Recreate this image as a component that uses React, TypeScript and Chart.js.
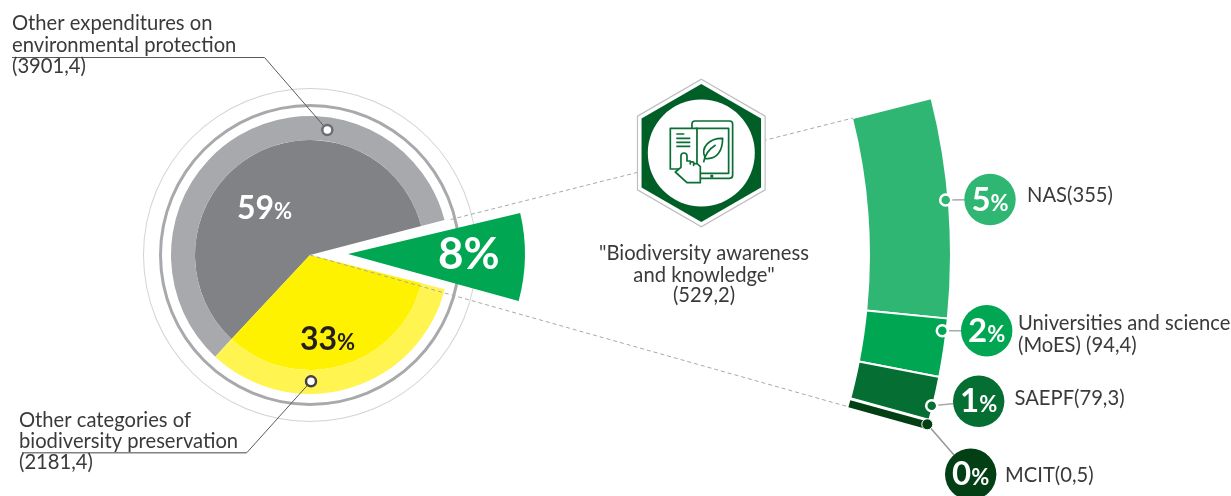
import React, { useEffect, useRef } from "react";
import { Chart, registerables } from "chart.js";

Chart.register(...registerables);

// Budget split shown by the main pie
const pieCategories = [
  "Other expenditures on environmental protection",
  "Biodiversity awareness and knowledge",
  "Other categories of biodiversity preservation",
];
const pieValues = [3901.4, 529.2, 2181.4];
const piePercents = [59, 8, 33];

// Breakdown of the awareness and knowledge slice
const detailCategories = ["NAS", "Universities and science (MoES)", "SAEPF", "MCIT"];
const detailValues = [355, 94.4, 79.3, 0.5];
const detailPercents = [5, 2, 1, 0];

const WIDTH = 1231;
const HEIGHT = 496;
const PIE_CENTER = { x: 310, y: 255 };
const WEDGE_CENTER = { x: 348, y: 254 };
const FONT = "Lato";
const INK = "#3a3a3c";
const GREENS = ["#2fb673", "#00a651", "#056f33", "#023f14"];
const DETAIL_START = 75.84; // degrees clockwise from twelve o'clock
const DETAIL_SWEEP = 29.6;

const sum = (list: number[]) => list.reduce((a, b) => a + b, 0);
const decimal = (v: number) => String(v).replace(".", ",");
const polar = (r: number, deg: number) => ({
  x: PIE_CENTER.x + r * Math.cos((deg * Math.PI) / 180),
  y: PIE_CENTER.y + r * Math.sin((deg * Math.PI) / 180),
});

// Keeps a partial arc on the chart's true centre instead of re-centring it
const fullCircleSpacer = {
  data: [1],
  weight: 0,
  rotation: 0,
  circumference: 360,
  backgroundColor: "transparent",
  borderWidth: 0,
};

type Layer = {
  center: { x: number; y: number };
  radius: number;
  cutout: number;
  datasets: any[];
};

const ringLayer = (outer: number, inner: number, color: string): Layer => ({
  center: PIE_CENTER,
  radius: outer,
  cutout: inner,
  datasets: [{ data: [1], backgroundColor: color, borderWidth: 0 }],
});

const pieStart = 223;
const wedgeMid = 91;
const wedgeSweep = (pieValues[1] / sum(pieValues)) * 360;
const wedgeStart = wedgeMid - wedgeSweep / 2 - (pieValues[0] / sum(pieValues)) * 360;

const layers: Layer[] = [
  ringLayer(167, 166, "#d1d3d4"),
  ringLayer(151, 148, "#a7a9ac"),
  {
    center: PIE_CENTER,
    radius: 139,
    cutout: 0,
    datasets: [
      {
        data: pieValues,
        weight: 24,
        rotation: pieStart,
        backgroundColor: ["#a7a9ac", "transparent", "#fff450"],
        borderWidth: 0,
      },
      {
        data: pieValues,
        weight: 115,
        rotation: pieStart,
        backgroundColor: ["#808285", "transparent", "#fff200"],
        borderWidth: 0,
      },
    ],
  },
  {
    center: WEDGE_CENTER,
    radius: 177,
    cutout: 0,
    datasets: [
      {
        data: pieValues,
        rotation: wedgeStart,
        backgroundColor: ["transparent", "#00a651", "transparent"],
        borderWidth: 0,
      },
    ],
  },
  {
    center: PIE_CENTER,
    radius: 641,
    cutout: 559,
    datasets: [
      {
        data: detailValues,
        rotation: DETAIL_START,
        circumference: DETAIL_SWEEP,
        backgroundColor: GREENS,
        borderColor: "#ffffff",
        borderWidth: [2, 2, 2, 13],
        borderJoinStyle: "miter",
      },
      fullCircleSpacer,
    ],
  },
  // The smallest share is a hairline, so it gets a stroke to stay legible
  {
    center: PIE_CENTER,
    radius: 637,
    cutout: 563,
    datasets: [
      {
        data: detailValues,
        rotation: DETAIL_START,
        circumference: DETAIL_SWEEP,
        backgroundColor: "transparent",
        borderColor: GREENS[3],
        borderWidth: [0, 0, 0, 7],
        borderJoinStyle: "miter",
      },
      fullCircleSpacer,
    ],
  },
];

const markers = [
  { x: 327.3, y: 130, r: 5, fill: "#ffffff", stroke: "#6d6e71", w: 2.5 },
  { x: 311, y: 381.3, r: 5, fill: "#ffffff", stroke: "#414042", w: 2.5 },
  { x: 945.7, y: 200, r: 5.5, fill: GREENS[0], stroke: "#ffffff", w: 2.5 },
  { x: 942.3, y: 330.7, r: 5.5, fill: GREENS[1], stroke: "#ffffff", w: 2.5 },
  { x: 931.7, y: 405.7, r: 5.5, fill: GREENS[2], stroke: "#ffffff", w: 2.5 },
  { x: 927.3, y: 424.3, r: 5.5, fill: GREENS[3], stroke: "#ffffff", w: 1 },
];

const badges = [
  { x: 990, y: 199.5 },
  { x: 986.7, y: 330.7 },
  { x: 978.7, y: 401.3 },
  { x: 970.7, y: 474.3 },
];

const lineSet = (points: { x: number; y: number }[], color: string, width: number, dash: number[] = []) => ({
  data: points,
  showLine: true,
  pointRadius: 0,
  borderColor: color,
  borderWidth: width,
  borderDash: dash,
  clip: false,
});

const drawPercent = (
  ctx: CanvasRenderingContext2D,
  value: number,
  x: number,
  baseline: number,
  digitSize: number,
  signSize: number,
  color: string,
  centered: boolean,
) => {
  ctx.fillStyle = color;
  ctx.textAlign = "left";
  ctx.textBaseline = "alphabetic";
  const digits = String(value);
  ctx.font = `bold ${digitSize}px ${FONT}`;
  const dw = ctx.measureText(digits).width;
  ctx.font = `bold ${signSize}px ${FONT}`;
  const sw = ctx.measureText("%").width;
  const left = centered ? x - (dw + sw) / 2 : x;
  ctx.font = `bold ${digitSize}px ${FONT}`;
  ctx.fillText(digits, left, baseline);
  ctx.font = `bold ${signSize}px ${FONT}`;
  ctx.fillText("%", left + dw, baseline);
};

const drawHexagon = (ctx: CanvasRenderingContext2D, cx: number, cy: number) => {
  const hex = (r: number) => {
    ctx.beginPath();
    for (let i = 0; i < 6; i++) {
      const a = (Math.PI / 3) * i - Math.PI / 2;
      const px = cx + r * Math.cos(a);
      const py = cy + r * Math.sin(a);
      if (i === 0) ctx.moveTo(px, py);
      else ctx.lineTo(px, py);
    }
    ctx.closePath();
  };
  hex(73.7);
  ctx.fillStyle = "#ffffff";
  ctx.fill();
  ctx.strokeStyle = "#bcbec0";
  ctx.lineWidth = 1.2;
  ctx.stroke();
  hex(69);
  ctx.fillStyle = "#005f27";
  ctx.fill();
  ctx.beginPath();
  ctx.arc(cx, cy, 53.5, 0, Math.PI * 2);
  ctx.fillStyle = "#ffffff";
  ctx.fill();

  // Tablet, open page and pointing hand pictogram
  const ox = cx - 41;
  const oy = cy - 43;
  const u = (v: number) => v / 3;
  ctx.save();
  ctx.translate(ox, oy);
  ctx.strokeStyle = "#0a6e35";
  ctx.fillStyle = "#ffffff";
  ctx.lineWidth = 1.7;
  ctx.lineJoin = "round";
  ctx.beginPath();
  ctx.roundRect(u(95), u(33), u(122), u(172), 3);
  ctx.stroke();
  ctx.beginPath();
  ctx.rect(u(108), u(55), u(97), u(135));
  ctx.stroke();
  ctx.fillStyle = "#0a6e35";
  ctx.fillRect(u(150), u(194), 3, 3);
  ctx.fillStyle = "#ffffff";
  ctx.beginPath();
  ctx.rect(u(30), u(55), u(80), u(122));
  ctx.fill();
  ctx.stroke();
  ctx.beginPath();
  [[48, 72, 72], [48, 85, 90], [48, 97, 90], [48, 109, 90]].forEach(([a, y, b]) => {
    ctx.moveTo(u(a), u(y));
    ctx.lineTo(u(b), u(y));
  });
  ctx.stroke();
  // Leaf
  ctx.beginPath();
  ctx.moveTo(u(135), u(145));
  ctx.bezierCurveTo(u(118), u(110), u(150), u(84), u(187), u(85));
  ctx.bezierCurveTo(u(187), u(122), u(170), u(150), u(135), u(145));
  ctx.moveTo(u(130), u(157));
  ctx.bezierCurveTo(u(133), u(135), u(145), u(118), u(166), u(105));
  ctx.stroke();
  // Hand
  ctx.beginPath();
  ctx.moveTo(u(62), u(172));
  ctx.lineTo(u(62), u(138));
  ctx.arc(u(71), u(138), u(9), Math.PI, 0);
  ctx.lineTo(u(80), u(153));
  ctx.lineTo(u(90), u(153));
  ctx.lineTo(u(90), u(162));
  ctx.lineTo(u(90), u(155));
  ctx.lineTo(u(100), u(156));
  ctx.lineTo(u(100), u(166));
  ctx.lineTo(u(100), u(160));
  ctx.lineTo(u(112), u(162));
  ctx.lineTo(u(120), u(170));
  ctx.lineTo(u(120), u(218));
  ctx.lineTo(u(80), u(218));
  ctx.lineTo(u(45), u(186));
  ctx.closePath();
  ctx.fill();
  ctx.stroke();
  ctx.restore();
};

const labelsPlugin = {
  id: "infographicLabels",
  afterDraw(chart: Chart) {
    const ctx = chart.ctx;
    ctx.save();
    drawHexagon(ctx, 701.3, 153);

    const body = (text: string, x: number, y: number, align: CanvasTextAlign = "left") => {
      ctx.font = `20.2px ${FONT}`;
      ctx.fillStyle = INK;
      ctx.textAlign = align;
      ctx.textBaseline = "alphabetic";
      ctx.fillText(text, x, y);
    };

    body("Other expenditures on", 12, 30);
    body("environmental protection", 12, 52);
    body(`(${decimal(pieValues[0])})`, 12, 73);
    body("Other categories of", 19, 426.5);
    body("biodiversity preservation", 19, 448);
    body(`(${decimal(pieValues[2])})`, 19, 469);
    body('"Biodiversity awareness', 704, 260, "center");
    body('and knowledge"', 704, 281.5, "center");
    body(`(${decimal(pieValues[1])})`, 704, 302, "center");

    body(`${detailCategories[0]}(${decimal(detailValues[0])})`, 1027, 202);
    body("Universities and science", 1018, 330);
    body(`(MoES) (${decimal(detailValues[1])})`, 1018, 351.5);
    body(`${detailCategories[2]}(${decimal(detailValues[2])})`, 1014.5, 405);
    body(`${detailCategories[3]}(${decimal(detailValues[3])})`, 1005, 482);

    drawPercent(ctx, piePercents[0], 237, 219, 32, 22, "#ffffff", false);
    drawPercent(ctx, piePercents[2], 300, 349.5, 32, 22, "#231f20", false);
    drawPercent(ctx, piePercents[1], 438, 269, 44, 44, "#ffffff", false);
    badges.forEach((b, i) => {
      drawPercent(ctx, detailPercents[i], b.x, b.y + 11, 33, 22, "#ffffff", true);
    });
    ctx.restore();
  },
};

export default function App() {
  const layerRefs = useRef<(HTMLCanvasElement | null)[]>([]);
  const overlayRef = useRef<HTMLCanvasElement | null>(null);

  useEffect(() => {
    const charts: Chart[] = layers.map(
      (layer, i) =>
        new Chart(layerRefs.current[i] as HTMLCanvasElement, {
          type: "doughnut",
          data: { datasets: layer.datasets },
          options: {
            responsive: false,
            animation: false,
            radius: layer.radius,
            cutout: layer.radius ? `${(layer.cutout / layer.radius) * 100}%` : 0,
            events: [],
            layout: { padding: 0 },
            plugins: { legend: { display: false }, tooltip: { enabled: false } },
          } as any,
        }),
    );

    const overlay = new Chart(overlayRef.current as HTMLCanvasElement, {
      type: "scatter",
      data: {
        datasets: [
          {
            data: markers.map((m) => ({ x: m.x, y: m.y })),
            pointRadius: markers.map((m) => m.r),
            pointBackgroundColor: markers.map((m) => m.fill),
            pointBorderColor: markers.map((m) => m.stroke),
            pointBorderWidth: markers.map((m) => m.w),
            clip: false,
          },
          {
            data: badges,
            pointRadius: 25.7,
            pointBackgroundColor: GREENS,
            pointBorderWidth: 0,
            clip: false,
          },
          lineSet([markers[2], badges[0]], "#a7a9ac", 1.5),
          lineSet([markers[3], badges[1]], "#a7a9ac", 1.5),
          lineSet([markers[4], badges[2]], "#a7a9ac", 1.5),
          lineSet([markers[5], badges[3]], "#939598", 1.5),
          lineSet([{ x: 12, y: 57.5 }, { x: 264.5, y: 57.5 }, markers[0]], "#58595b", 1),
          lineSet([{ x: 22, y: 452.8 }, { x: 246.7, y: 452.8 }], "#808285", 1.6),
          lineSet([{ x: 246.7, y: 452.8 }, markers[1]], "#58595b", 1),
          lineSet([polar(145, -14.16), polar(560, -14.16)], "#a7a9ac", 1, [4, 3]),
          lineSet([polar(0, 15.75), polar(559, 15.75)], "#a7a9ac", 1, [4, 3]),
        ],
      },
      options: {
        responsive: false,
        animation: false,
        events: [],
        layout: { padding: 0, autoPadding: false },
        plugins: { legend: { display: false }, tooltip: { enabled: false } },
        scales: {
          x: { type: "linear", min: 0, max: WIDTH, display: false },
          y: { type: "linear", min: 0, max: HEIGHT, reverse: true, display: false },
        },
      } as any,
      plugins: [labelsPlugin as any],
    });

    return () => {
      charts.forEach((c) => c.destroy());
      overlay.destroy();
    };
  }, []);

  return (
    <div
      style={{
        position: "fixed",
        left: 0,
        top: 0,
        width: WIDTH,
        height: HEIGHT,
        overflow: "hidden",
        background: "#ffffff",
      }}
    >
      {layers.map((layer, i) => {
        const size = Math.ceil(layer.radius * 2) + 4;
        return (
          <canvas
            key={i}
            ref={(el) => {
              layerRefs.current[i] = el;
            }}
            width={size}
            height={size}
            style={{
              position: "absolute",
              left: layer.center.x - size / 2,
              top: layer.center.y - size / 2,
              width: size,
              height: size,
            }}
          />
        );
      })}
      <canvas
        ref={overlayRef}
        width={WIDTH}
        height={HEIGHT}
        style={{ position: "absolute", left: 0, top: 0, width: WIDTH, height: HEIGHT }}
      />
    </div>
  );
}
